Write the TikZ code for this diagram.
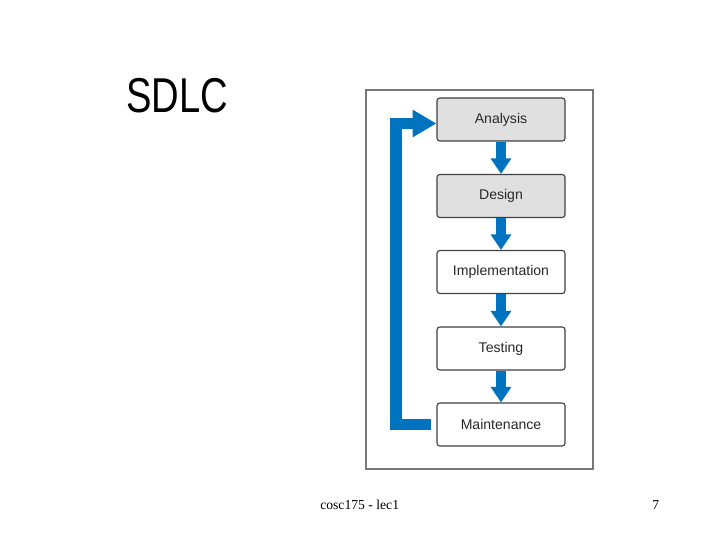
\documentclass[tikz,border=0pt]{standalone}
\usepackage{fontspec}
\usepackage{tikz}
\usetikzlibrary{arrows.meta, positioning, calc}
\newfontfamily\labelfont{Liberation Sans}
\newfontfamily\footfont{Liberation Serif}
\definecolor{flowblue}{RGB}{0,115,190}
\definecolor{stagegray}{RGB}{224,224,224}
\definecolor{framegray}{RGB}{120,120,120}
\definecolor{textgray}{RGB}{40,40,40}
\tikzset{
  stage/.style    = {rectangle, rounded corners=2pt, draw=black!75, fill=#1,
                     line width=0.8pt, minimum width=3.2cm, minimum height=1.075cm,
                     font=\labelfont\fontsize{10}{12}\selectfont, text=textgray},
  stage/.default  = white,
  flow/.style     = {-{Triangle[width=14pt, length=11pt]}, line width=7pt,
                     color=flowblue},
  loopback/.style = {-{Triangle[width=18.5pt, length=17pt]}, line width=8.5pt,
                     color=flowblue, line join=miter},
  footer/.style   = {anchor=base west, inner sep=0pt,
                     font=\footfont\fontsize{9.7}{11}\selectfont},
}

\begin{document}
\begin{tikzpicture}[x=0.025cm, y=0.025cm]
  \useasboundingbox (0,0) rectangle (720,540);

  %--- Title -------------------------------------------------------------
  \node[anchor=west, inner sep=0pt, xscale=0.78,
        font=\labelfont\fontsize{34.8}{40}\selectfont] (title) at (126,444.5) {SDLC};

  %--- Frame -------------------------------------------------------------
  \node[draw=framegray, line width=0.8pt, minimum width=5.675cm,
        minimum height=9.475cm, inner sep=0pt] (frame) at (479.5,260.5) {};

  %--- Stages ------------------------------------------------------------
  \node[stage=stagegray] (analysis) at (501,420.5) {Analysis};
  \node[stage=stagegray] (design)   at (501,344)   {Design};
  \node[stage]           (impl)     at (501,268)   {Implementation};
  \node[stage]           (testing)  at (501,191.5) {Testing};
  \node[stage]           (maint)    at (501,115.5) {Maintenance};

  %--- Flow arrows -------------------------------------------------------
  \draw[flow] (analysis) -- (design);
  \draw[flow] (design)   -- (impl);
  \draw[flow] (impl)     -- (testing);
  \draw[flow] (testing)  -- (maint);

  % Maintenance back to Analysis
  \coordinate (turn) at ($(maint.west)+(-40,0)$);
  \draw[loopback, shorten <=4pt] (maint.west) -- (turn) |- ($(analysis.west)+(0,-4)$);

  %--- Footer ------------------------------------------------------------
  \node[footer] (course) at (320,30.5) {cosc175 - lec1};
  \node[footer] (page)   at (652,30.5) {7};
\end{tikzpicture}
\end{document}
